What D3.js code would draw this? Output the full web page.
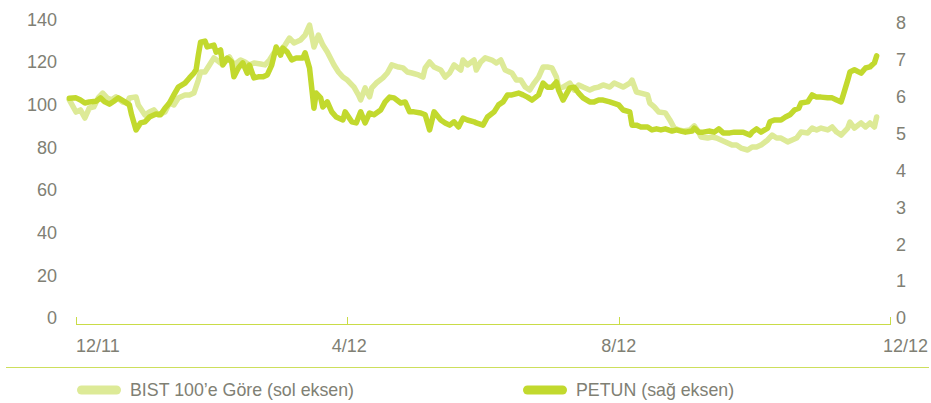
<!DOCTYPE html>
<meta charset="utf-8">
<script src="https://d3js.org/d3.v7.min.js"></script>
<style type="text/css">
body {
  margin: 0;
  background: #fff;
}

text {
  font-family: "Liberation Sans", Arial, sans-serif;
  fill: #808074;
}

.axis path,
.axis line {
  fill: none;
  stroke: #c9dc47;
  shape-rendering: crispEdges;
}

.line {
  fill: none;
  stroke-width: 5.5;
  stroke-linejoin: round;
  stroke-linecap: round;
}
</style>
<body>
<script>

// x values are days counted from 1 Dec 2011
var baseDate = new Date(2011, 11, 1);

// BIST 100'e Göre (left axis)
var bist = [
  [-3,102.3],[0,96.6],[2,97.6],[4,93.8],[6,98.5],[8,99.0],[10,103.2],[12,105.5],[14,103.2],[16,102.3],
  [18,103.7],[21,101.3],[23,100.8],[24,103.2],[27,103.7],[28,99.9],[31,95.2],[33,96.6],[35,97.6],[37,95.2],
  [40,96.6],[42,100.8],[44,99.9],[46,103.2],[49,104.6],[51,104.6],[53,105.5],[55,111.6],[56,115.4],[58,115.4],
  [60,118.7],[62,122.0],[65,119.6],[67,120.1],[69,122.4],[71,118.7],[74,121.0],[76,120.1],[78,118.7],[80,119.6],
  [83,119.1],[85,118.7],[87,121.0],[89,124.3],[92,125.7],[94,128.0],[96,131.3],[98,129.0],[101,130.4],[103,132.7],
  [105,137.4],[107,127.1],[109,132.7],[111,128.0],[113,124.8],[116,118.7],[118,115.4],[120,113.0],[122,111.6],[125,108.3],
  [127,104.6],[128,102.3],[130,107.9],[132,103.7],[133,107.9],[135,110.2],[138,112.6],[140,114.9],[142,118.7],[145,117.7],
  [147,117.3],[149,115.4],[151,114.9],[154,114.0],[156,113.0],[157,117.3],[159,120.1],[161,117.7],[164,116.3],[166,113.0],
  [168,114.9],[170,118.7],[173,116.3],[174,121.0],[176,118.7],[179,121.0],[180,116.3],[182,120.1],[184,122.0],[187,121.0],
  [189,119.6],[191,121.0],[193,116.3],[196,114.9],[198,111.6],[200,111.6],[202,108.3],[204,106.9],[206,110.2],[208,113.0],
  [210,117.7],[212,117.7],[214,117.3],[216,113.0],[217,107.9],[219,108.3],[222,110.2],[224,106.9],[226,109.3],[228,108.3],
  [231,106.9],[233,107.9],[235,108.3],[237,109.3],[240,108.3],[242,110.2],[244,109.3],[246,108.3],[249,110.2],[250,111.6],
  [252,106.0],[254,105.5],[257,104.6],[258,100.8],[260,99.0],[262,96.6],[265,96.2],[267,92.9],[269,89.1],[271,88.2],
  [273,87.7],[276,88.2],[278,90.1],[280,87.2],[281,84.9],[284,84.4],[286,84.9],[288,84.4],[290,83.5],[293,82.1],
  [295,81.1],[297,81.1],[299,79.7],[302,78.8],[304,80.2],[306,80.2],[308,81.1],[311,83.5],[313,85.8],[315,84.4],
  [317,84.4],[320,82.6],[322,83.5],[324,84.4],[326,87.2],[329,86.8],[331,89.1],[333,88.2],[335,89.1],[338,88.2],
  [340,89.6],[342,87.2],[344,85.8],[347,89.1],[348,91.9],[350,89.1],[353,91.5],[355,89.6],[357,91.5],[359,89.6],
  [360,94.3]
];

// PETUN (right axis)
var petun = [
  [-3,5.96],[0,5.97],[2,5.91],[4,5.83],[6,5.86],[9,5.88],[11,5.97],[13,5.86],[15,5.80],[17,5.88],
  [19,5.97],[22,5.86],[24,5.78],[25,5.51],[27,5.10],[29,5.29],[31,5.32],[33,5.45],[36,5.53],[38,5.51],
  [40,5.69],[42,5.83],[44,6.05],[46,6.26],[49,6.37],[51,6.51],[53,6.64],[54,6.73],[55,7.13],[56,7.48],
  [58,7.51],[59,7.35],[62,7.40],[63,7.21],[65,7.27],[66,6.86],[68,7.05],[70,6.94],[71,6.54],[73,6.78],
  [75,6.92],[77,6.64],[78,6.86],[80,6.51],[82,6.54],[84,6.54],[86,6.59],[88,6.86],[90,7.35],[92,7.13],
  [93,7.32],[95,7.21],[97,7.00],[99,7.05],[102,7.05],[103,7.19],[105,6.78],[107,5.69],[108,6.10],[110,5.97],
  [111,5.72],[113,5.86],[115,5.59],[117,5.45],[120,5.37],[121,5.59],[124,5.32],[126,5.29],[128,5.59],[130,5.29],
  [132,5.56],[134,5.51],[137,5.64],[139,5.86],[141,5.99],[143,5.97],[146,5.83],[148,5.86],[150,5.59],[152,5.59],
  [155,5.56],[157,5.51],[159,5.10],[161,5.59],[164,5.37],[166,5.29],[168,5.23],[170,5.32],[172,5.18],[174,5.42],
  [176,5.37],[179,5.32],[180,5.29],[183,5.23],[185,5.45],[188,5.59],[190,5.78],[192,5.86],[194,6.05],[196,6.05],
  [199,6.10],[201,6.05],[203,5.99],[205,5.91],[208,6.05],[210,6.37],[212,6.26],[214,6.26],[216,6.40],[217,6.18],
  [219,5.91],[222,6.24],[224,6.26],[226,6.10],[228,5.97],[231,5.86],[233,5.86],[235,5.91],[237,5.91],[240,5.86],
  [242,5.82],[244,5.78],[246,5.64],[249,5.59],[250,5.23],[252,5.23],[254,5.18],[257,5.18],[259,5.10],[261,5.13],
  [263,5.10],[265,5.13],[268,5.07],[270,5.10],[272,5.07],[274,5.04],[277,5.07],[278,5.15],[280,5.04],[282,5.04],
  [285,5.07],[287,5.04],[289,5.13],[291,5.02],[294,5.02],[296,5.04],[298,5.04],[300,5.04],[303,4.96],[304,5.04],
  [306,5.13],[308,5.04],[311,5.15],[312,5.32],[314,5.37],[317,5.37],[319,5.45],[321,5.51],[323,5.64],[325,5.69],
  [326,5.83],[329,5.86],[331,6.05],[333,5.99],[335,5.99],[338,5.97],[340,5.97],[342,5.91],[344,5.86],[345,6.05],
  [347,6.45],[348,6.67],[350,6.73],[353,6.64],[355,6.78],[357,6.81],[359,6.92],[360,7.11]
];

var xTicks = [new Date(2011, 11, 1), new Date(2012, 3, 1), new Date(2012, 7, 1), new Date(2012, 11, 1)];
var leftTicks = [0, 20, 40, 60, 80, 100, 120, 140];
var rightTicks = [0, 1, 2, 3, 4, 5, 6, 7, 8];
var legendLabels = ["BIST 100\u2019e G\u00f6re (sol eksen)", "PETUN (sa\u011f eksen)"];

var width = 931, height = 403;
var lightColor = "#ddea97", darkColor = "#c2d92e";

var svg = d3.select("body").append("svg")
    .attr("width", width)
    .attr("height", height);

var x = d3.scaleTime().domain([xTicks[0], xTicks[3]]).range([76, 890]);
var yLeft = d3.scaleLinear().domain([0, 140]).range([318, 19.5]);
var yRight = d3.scaleLinear().domain([0, 8]).range([318, 23]);

function day(d) { return d3.timeDay.offset(baseDate, d[0]); }

// left and right value labels
svg.append("g")
    .attr("transform", "translate(57,0)")
    .call(d3.axisLeft(yLeft).tickValues(leftTicks).tickSize(0).tickPadding(0))
    .call(function(g) { g.select(".domain").remove(); })
    .selectAll("text").style("font-size", "18px");

svg.append("g")
    .attr("transform", "translate(896,0)")
    .call(d3.axisRight(yRight).tickValues(rightTicks).tickSize(0).tickPadding(0))
    .call(function(g) { g.select(".domain").remove(); })
    .selectAll("text").style("font-size", "18px");

// x axis, ticks pointing up
svg.append("g")
    .attr("class", "axis")
    .attr("transform", "translate(0,323.5)")
    .call(d3.axisTop(x).tickValues(xTicks).tickSize(7).tickSizeOuter(7).tickFormat(""));

svg.selectAll(".xlabel").data(xTicks).enter().append("text")
    .attr("class", "xlabel")
    .attr("x", function(d) { return x(d); })
    .attr("y", 352)
    .attr("dx", function(d, i) { return i === 3 ? 38 : (i === 1 ? 2 : 0); })
    .style("text-anchor", function(d, i) { return i === 0 ? "start" : (i === 3 ? "end" : "middle"); })
    .style("font-size", "18px")
    .text(d3.timeFormat("%-m/%y"));

// lines
var lineLeft = d3.line().x(function(d) { return x(day(d)); }).y(function(d) { return yLeft(d[1]); });
var lineRight = d3.line().x(function(d) { return x(day(d)); }).y(function(d) { return yRight(d[1]); });

svg.append("path").datum(bist).attr("class", "line")
    .attr("stroke", lightColor).attr("d", lineLeft);
svg.append("path").datum(petun).attr("class", "line")
    .attr("stroke", darkColor).attr("d", lineRight);

// separator
svg.append("line")
    .attr("x1", 6).attr("x2", 929).attr("y1", 367.5).attr("y2", 367.5)
    .attr("stroke", "#cddf5c").attr("stroke-width", 1);

// legend
var legendX = [77, 523];
var legendColors = [lightColor, darkColor];
legendLabels.forEach(function(label, i) {
    svg.append("line")
        .attr("x1", legendX[i] + 4.5).attr("x2", legendX[i] + 39.5)
        .attr("y1", 390).attr("y2", 390)
        .attr("stroke", legendColors[i]).attr("stroke-width", 9)
        .attr("stroke-linecap", "round");
    svg.append("text")
        .attr("x", legendX[i] + 53).attr("y", 390).attr("dy", "0.35em")
        .style("font-size", "17.8px")
        .text(label);
});

</script>
</body>
</html>
